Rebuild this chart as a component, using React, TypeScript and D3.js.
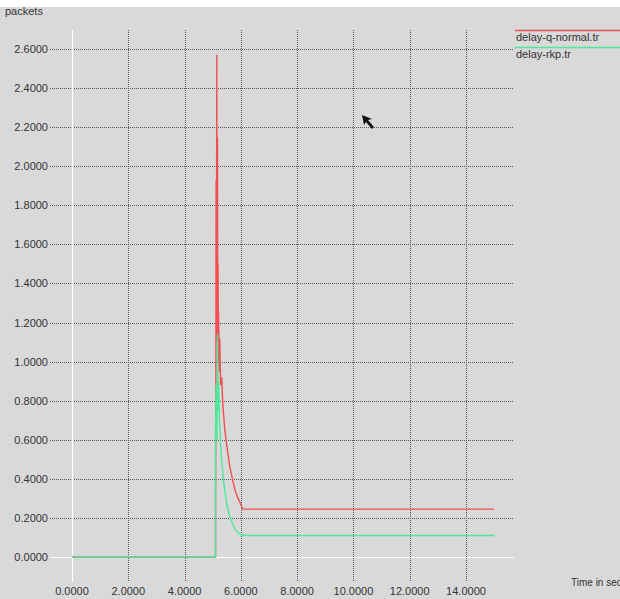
import React from "react";
import * as d3 from "d3";

const xTicks = [0, 2, 4, 6, 8, 10, 12, 14];
const yTicks = [0, 0.2, 0.4, 0.6, 0.8, 1.0, 1.2, 1.4, 1.6, 1.8, 2.0, 2.2, 2.4, 2.6];

const redT = [0, 5.1, 5.1, 5.11, 5.12, 5.13, 5.145, 5.155, 5.17, 5.18, 5.19, 5.2, 5.21, 5.23, 5.25, 5.28, 5.32, 5.36, 5.43, 5.5, 5.61, 5.7, 5.79, 5.9, 6.03, 6.07, 15];
const redV = [0, 0, 0.29, 0.65, 1.93, 1.1, 2.57, 1.2, 2.15, 1.05, 1.5, 1.0, 1.25, 0.95, 1.12, 0.88, 0.92, 0.78, 0.65, 0.57, 0.46, 0.4, 0.343, 0.3, 0.26, 0.245, 0.245];

const greenT = [0, 5.1, 5.1, 5.12, 5.15, 5.17, 5.19, 5.21, 5.24, 5.3, 5.4, 5.5, 5.6, 5.7, 5.8, 5.9, 6.0, 6.1, 15];
const greenV = [0, 0, 0.62, 0.88, 0.6, 1.14, 0.75, 0.9, 0.7, 0.52, 0.37, 0.27, 0.21, 0.17, 0.14, 0.125, 0.115, 0.11, 0.11];

const series = [
  { name: "delay-q-normal.tr", color: "#f05050", t: redT, v: redV },
  { name: "delay-rkp.tr", color: "#4ee89c", t: greenT, v: greenV },
];

const W = 620;
const H = 599;

export default function App() {
  const x = d3.scaleLinear().domain([0, 14]).range([72, 466]);
  const y = d3.scaleLinear().domain([0, 2.6]).range([557, 49]);
  const gridLeft = 50;
  const gridRight = 514;
  const gridTop = 30;
  const gridBottom = 582;
  const font = "'Liberation Sans', Arial, sans-serif";
  const line = d3
    .line<[number, number]>()
    .x((d) => x(d[0]))
    .y((d) => y(d[1]));

  return (
    <svg
      width={W}
      height={H}
      style={{ position: "absolute", left: 0, top: 0 }}
      fontFamily={font}
    >
      <rect x={0} y={0} width={W} height={H} fill="#d9d9d9" />
      <rect x={0} y={0} width={W} height={7} fill="#ffffff" />
      {yTicks.map((v) => (
        <g key={"y" + v}>
          <line
            x1={gridLeft}
            x2={gridRight}
            y1={Math.round(y(v)) + 0.5}
            y2={Math.round(y(v)) + 0.5}
            stroke={v === 0 ? "#ffffff" : "#555"}
            strokeDasharray={v === 0 ? undefined : "1,1"}
            strokeWidth={1}
          />
          <text x={48} y={y(v) + 4} textAnchor="end" fontSize={11} fill="#333">
            {v.toFixed(4)}
          </text>
        </g>
      ))}
      {xTicks.map((t) => (
        <g key={"x" + t}>
          <line
            x1={Math.round(x(t)) + 0.5}
            x2={Math.round(x(t)) + 0.5}
            y1={gridTop}
            y2={gridBottom}
            stroke={t === 0 ? "#ffffff" : "#555"}
            strokeDasharray={t === 0 ? undefined : "1,1"}
            strokeWidth={1}
          />
          <text x={x(t)} y={595} textAnchor="middle" fontSize={11} fill="#333">
            {t.toFixed(4)}
          </text>
        </g>
      ))}
      {series.map((s) => (
        <path
          key={s.name}
          d={line(s.t.map((t, i) => [t, s.v[i]] as [number, number])) || ""}
          fill="none"
          stroke={s.color}
          strokeWidth={1.4}
        />
      ))}
      {series.map((s, i) => (
        <g key={"lg" + s.name}>
          <line
            x1={515}
            x2={620}
            y1={30.5 + i * 17}
            y2={30.5 + i * 17}
            stroke={s.color}
            strokeWidth={1.4}
          />
          <text x={516} y={41 + i * 17} fontSize={11} fill="#333">
            {s.name}
          </text>
        </g>
      ))}
      <text x={5} y={15} fontSize={11} fill="#333">
        packets
      </text>
      <text x={571} y={586} fontSize={10} fill="#333">
        Time in sec
      </text>
      <path
        d="M362,115 L364,125 L366,122 L372,129 L374,127 L368,120 L372,119 Z"
        fill="#111"
      />
    </svg>
  );
}
